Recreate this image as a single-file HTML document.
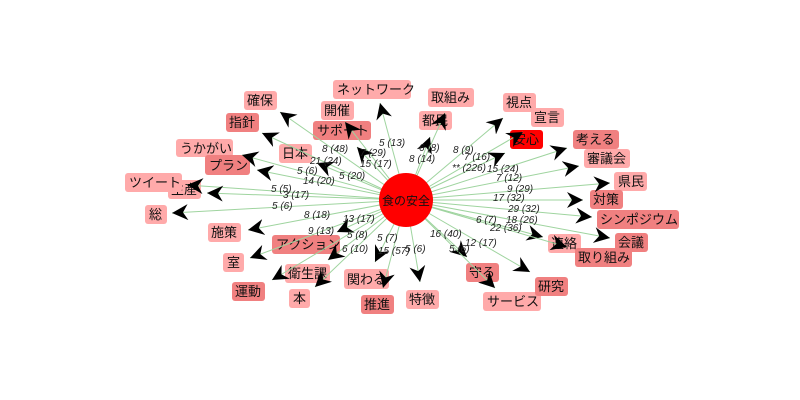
<!DOCTYPE html>
<html><head><meta charset="utf-8"><style>
html,body{margin:0;padding:0;background:#fff;width:800px;height:400px;overflow:hidden}
svg{font-family:"Liberation Sans","Noto Sans CJK JP",sans-serif}
.e{stroke:#9fd49f;stroke-width:1;marker-end:url(#ar)}
.l{font-size:10px;font-style:italic;fill:#222}
.n{font-size:13px;fill:#111}
</style></head><body>
<svg width="800" height="400" viewBox="0 0 800 400">
<defs><marker id="ar" markerUnits="userSpaceOnUse" markerWidth="18" markerHeight="16" refX="16" refY="8" orient="auto"><path d="M0,0 L16,8 L0,16 L5,8 Z" fill="#000"/></marker></defs>
<g class="n">
<rect x="333" y="80" width="78" height="19" rx="3" fill="#ffaaaa"/><text x="337" y="94">ネットワーク</text>
<rect x="244" y="91" width="33" height="19" rx="3" fill="#ffaaaa"/><text x="247" y="105">確保</text>
<rect x="321" y="101" width="33" height="19" rx="3" fill="#ffaaaa"/><text x="324" y="115">開催</text>
<rect x="226" y="113" width="33" height="19" rx="3" fill="#f08080"/><text x="229" y="127">指針</text>
<rect x="313" y="121" width="58" height="19" rx="3" fill="#f08080"/><text x="317" y="135">サポート</text>
<rect x="176" y="139" width="57" height="18" rx="3" fill="#ffaaaa"/><text x="180" y="153">うかがい</text>
<rect x="279" y="144" width="33" height="19" rx="3" fill="#ffaaaa"/><text x="282" y="158">日本</text>
<rect x="205" y="155" width="45" height="20" rx="3" fill="#f08080"/><text x="209" y="170">プラン</text>
<rect x="168" y="180" width="33" height="19" rx="3" fill="#ffaaaa"/><text x="171" y="194">生産</text>
<rect x="125" y="173" width="57" height="19" rx="3" fill="#ffaaaa"/><text x="129" y="187">ツイート</text>
<rect x="145" y="205" width="22" height="19" rx="3" fill="#ffaaaa"/><text x="149" y="219">総</text>
<rect x="208" y="223" width="33" height="19" rx="3" fill="#ffaaaa"/><text x="211" y="237">施策</text>
<rect x="272" y="235" width="68" height="19" rx="3" fill="#f08080"/><text x="276" y="249">アクション</text>
<rect x="223" y="253" width="21" height="19" rx="3" fill="#ffaaaa"/><text x="227" y="267">室</text>
<rect x="285" y="264" width="45" height="19" rx="3" fill="#ffaaaa"/><text x="288" y="278">衛生課</text>
<rect x="232" y="282" width="33" height="19" rx="3" fill="#f08080"/><text x="235" y="296">運動</text>
<rect x="289" y="289" width="21" height="19" rx="3" fill="#ffaaaa"/><text x="293" y="303">本</text>
<rect x="344" y="269" width="45" height="20" rx="3" fill="#ffaaaa"/><text x="347" y="284">関わる</text>
<rect x="361" y="295" width="33" height="19" rx="3" fill="#f08080"/><text x="364" y="309">推進</text>
<rect x="406" y="290" width="33" height="19" rx="3" fill="#ffaaaa"/><text x="409" y="304">特徴</text>
<rect x="466" y="263" width="33" height="19" rx="3" fill="#f08080"/><text x="469" y="277">守る</text>
<rect x="483" y="292" width="58" height="19" rx="3" fill="#ffaaaa"/><text x="487" y="306">サービス</text>
<rect x="535" y="277" width="33" height="19" rx="3" fill="#f08080"/><text x="538" y="291">研究</text>
<rect x="428" y="88" width="46" height="19" rx="3" fill="#ffaaaa"/><text x="431" y="102">取組み</text>
<rect x="419" y="111" width="33" height="19" rx="3" fill="#ffaaaa"/><text x="422" y="125">都民</text>
<rect x="503" y="93" width="33" height="19" rx="3" fill="#ffaaaa"/><text x="506" y="107">視点</text>
<rect x="531" y="108" width="33" height="19" rx="3" fill="#ffaaaa"/><text x="534" y="122">宣言</text>
<rect x="510" y="130" width="33" height="19" rx="3" fill="#ff0000"/><text x="513" y="144">安心</text>
<rect x="573" y="130" width="46" height="19" rx="3" fill="#f08080"/><text x="576" y="144">考える</text>
<rect x="584" y="149" width="46" height="19" rx="3" fill="#ffaaaa"/><text x="587" y="163">審議会</text>
<rect x="614" y="172" width="33" height="19" rx="3" fill="#ffaaaa"/><text x="618" y="186">県民</text>
<rect x="590" y="190" width="33" height="19" rx="3" fill="#f08080"/><text x="593" y="204">対策</text>
<rect x="597" y="210" width="82" height="19" rx="3" fill="#f08080"/><text x="600" y="224">シンポジウム</text>
<rect x="615" y="233" width="33" height="19" rx="3" fill="#f08080"/><text x="618" y="247">会議</text>
<rect x="548" y="234" width="33" height="19" rx="3" fill="#ffaaaa"/><text x="551" y="248">連絡</text>
<rect x="575" y="248" width="57" height="19" rx="3" fill="#f08080"/><text x="578" y="262">取り組み</text>
</g>
<g>
<line class="e" x1="406" y1="200" x2="380" y2="103"/>
<line class="e" x1="406" y1="200" x2="280" y2="112"/>
<line class="e" x1="406" y1="200" x2="345" y2="122"/>
<line class="e" x1="406" y1="200" x2="357" y2="147"/>
<line class="e" x1="406" y1="200" x2="262" y2="133"/>
<line class="e" x1="406" y1="200" x2="242" y2="155"/>
<line class="e" x1="406" y1="200" x2="257" y2="170"/>
<line class="e" x1="406" y1="200" x2="317" y2="163"/>
<line class="e" x1="406" y1="200" x2="187" y2="185"/>
<line class="e" x1="406" y1="200" x2="207" y2="193"/>
<line class="e" x1="406" y1="200" x2="172" y2="213"/>
<line class="e" x1="406" y1="200" x2="248" y2="230"/>
<line class="e" x1="406" y1="200" x2="250" y2="258"/>
<line class="e" x1="406" y1="200" x2="272" y2="280"/>
<line class="e" x1="406" y1="200" x2="315" y2="287"/>
<line class="e" x1="406" y1="200" x2="328" y2="260"/>
<line class="e" x1="406" y1="200" x2="337" y2="232"/>
<line class="e" x1="406" y1="200" x2="375" y2="262"/>
<line class="e" x1="406" y1="200" x2="383" y2="288"/>
<line class="e" x1="406" y1="200" x2="420" y2="282"/>
<line class="e" x1="406" y1="200" x2="467" y2="257"/>
<line class="e" x1="406" y1="200" x2="495" y2="288"/>
<line class="e" x1="406" y1="200" x2="530" y2="272"/>
<line class="e" x1="406" y1="200" x2="430" y2="137"/>
<line class="e" x1="406" y1="200" x2="445" y2="113"/>
<line class="e" x1="406" y1="200" x2="503" y2="118"/>
<line class="e" x1="406" y1="200" x2="523" y2="132"/>
<line class="e" x1="406" y1="200" x2="505" y2="153"/>
<line class="e" x1="406" y1="200" x2="567" y2="148"/>
<line class="e" x1="406" y1="200" x2="579" y2="166"/>
<line class="e" x1="406" y1="200" x2="610" y2="183"/>
<line class="e" x1="406" y1="200" x2="583" y2="200"/>
<line class="e" x1="406" y1="200" x2="592" y2="217"/>
<line class="e" x1="406" y1="200" x2="610" y2="238"/>
<line class="e" x1="406" y1="200" x2="543" y2="237"/>
<line class="e" x1="406" y1="200" x2="567" y2="247"/>
</g>
<g class="l">
<text x="379" y="146">5 (13)</text><text x="322" y="152">8 (48)</text><text x="360" y="156">7 (29)</text>
<text x="310" y="164">21 (24)</text><text x="360" y="167">15 (17)</text><text x="297" y="174">5 (6)</text>
<text x="303" y="184">14 (20)</text><text x="339" y="179">5 (20)</text><text x="271" y="192">5 (5)</text>
<text x="283" y="198">3 (17)</text><text x="272" y="209">5 (6)</text><text x="304" y="218">8 (18)</text>
<text x="343" y="222">13 (17)</text><text x="308" y="234">9 (13)</text><text x="347" y="238">5 (8)</text>
<text x="342" y="252">6 (10)</text><text x="377" y="241">5 (7)</text><text x="378" y="254">15 (57)</text>
<text x="405" y="252">5 (6)</text><text x="430" y="237">16 (40)</text><text x="449" y="252">5 (6)</text>
<text x="465" y="246">12 (17)</text><text x="419" y="151">6 (8)</text><text x="409" y="162">8 (14)</text>
<text x="453" y="153">8 (9)</text><text x="464" y="160">7 (16)</text><text x="452" y="171">** (226)</text>
<text x="487" y="172">15 (24)</text><text x="496" y="181">7 (12)</text><text x="507" y="192">9 (29)</text>
<text x="493" y="201">17 (32)</text><text x="508" y="212">29 (32)</text><text x="476" y="223">6 (7)</text>
<text x="506" y="223">18 (26)</text><text x="490" y="231">22 (36)</text>
</g>
<circle cx="406" cy="200" r="27" fill="#ff0000"/>
<text x="406" y="205" text-anchor="middle" font-size="12" fill="#111">食の安全</text>
</svg>
</body></html>
